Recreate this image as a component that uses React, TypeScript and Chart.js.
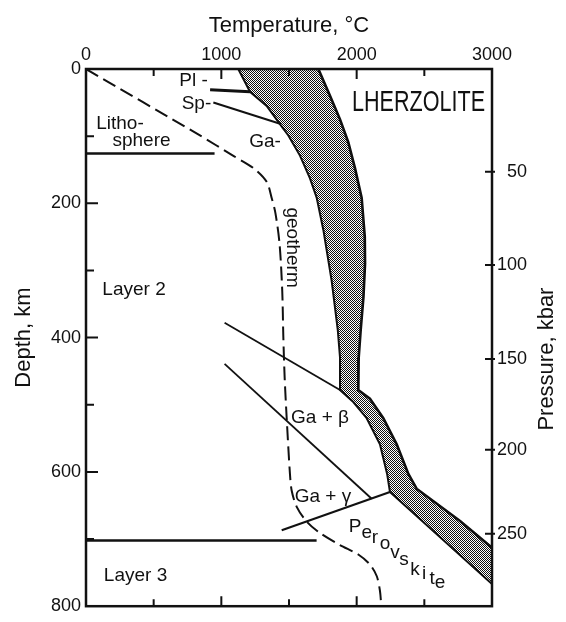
import { useEffect, useRef } from 'react';
import { Chart, registerables } from 'chart.js';

Chart.register(...registerables);

const INK = '#111111';
const FONT = "'Liberation Sans', Arial, sans-serif";

// Axis ticks
const temperatureTicks = [0, 1000, 2000, 3000];
const temperatureTickMarks = [500, 1000, 1500, 2000, 2500];
const depthTickMarks = [100, 200, 300, 400, 500, 600, 700];
const pressureLabels = [50, 100, 150, 200, 250];
const pressureDepths = [153, 292, 432, 567, 692];

// Geotherm (temperature °C, depth km)
const geothermT = [0, 842, 1086, 1240, 1335, 1372, 1400, 1430, 1450, 1458, 1468, 1483, 1507, 1520, 1557, 1631, 1729, 1877, 2012, 2098, 2148, 2172, 2182];
const geothermD = [0, 99, 129, 148, 168, 192, 215, 260, 330, 398, 460, 520, 603, 628, 652, 674, 691, 709, 723, 738, 755, 777, 800];

// Melting band: solidus (left) and liquidus (right)
const solidusT = [1125, 1212, 1335, 1433, 1495, 1581, 1655, 1705, 1755, 1815, 1860, 1877, 1877, 1975, 2074, 2172, 2225, 2246, 3000];
const solidusD = [0, 34, 55, 82, 99, 129, 163, 192, 241, 315, 388, 430, 478, 496, 520, 559, 603, 630, 767];
const liquidusT = [1717, 1803, 1877, 1938, 1988, 2037, 2060, 2062, 2050, 2030, 2015, 2012, 2098, 2197, 2296, 2382, 2443, 2764, 3000];
const liquidusD = [0, 40, 75, 109, 148, 192, 250, 290, 340, 388, 430, 478, 491, 520, 559, 603, 625, 673, 713];

// Phase boundaries
const plagioclaseT = [917, 1212];
const plagioclaseD = [31, 34];
const spinelT = [941, 1440];
const spinelD = [50, 82];
const garnetBetaT = [1024, 1877];
const garnetBetaD = [378, 478];
const betaGammaT = [1024, 2111];
const betaGammaD = [439, 640];
const perovskiteT = [1446, 2246];
const perovskiteD = [687, 630];
const lithosphereT = [0, 950];
const lithosphereD = [126, 126];
const layer3T = [0, 1704];
const layer3D = [702, 702];

// Text labels (temperature, depth of baseline)
const labelTexts = ['Pl -', 'Sp-', 'Ga-', 'Litho-', 'sphere', 'Layer 2', 'Layer 3', 'Ga + β', 'Ga + γ'];
const labelT = [794, 816, 1323, 251, 410, 355, 366, 1729, 1751];
const labelD = [25, 59, 116, 89.5, 114, 336.6, 763, 527, 645];

const perovskiteLetters = ['P', 'e', 'r', 'o', 'v', 's', 'k', 'i', 't', 'e'];
const perovskiteLetterT = [1988, 2074, 2135, 2209, 2283, 2350, 2431, 2498, 2557, 2616];
const perovskiteLetterD = [689.5, 697.7, 706, 714.4, 728, 739, 754.1, 760, 766.2, 773.6];

const geothermLabel = { text: 'geotherm', t: 1522, d: 266 };
const rockLabel = { text: 'LHERZOLITE', t: 2457, d: 62.7 };

const pts = (t: number[], d: number[]) => t.map((v, i) => ({ x: v, y: d[i] }));

const lineDs = (t: number[], d: number[], width: number, extra: any = {}) => ({
  data: pts(t, d),
  showLine: true,
  pointRadius: 0,
  borderColor: INK,
  borderWidth: width,
  fill: false,
  order: 0,
  ...extra,
});

const decorPlugin = {
  id: 'decor',
  afterDatasetsDraw(chart: any) {
    const { ctx, chartArea: a, scales } = chart;
    const xs = scales.x;
    const ys = scales.y;
    const y2 = scales.y2;
    ctx.save();
    ctx.strokeStyle = INK;
    ctx.fillStyle = INK;
    ctx.lineWidth = 2.5;
    ctx.strokeRect(a.left, a.top, a.right - a.left, a.bottom - a.top);

    ctx.lineWidth = 2;
    ctx.beginPath();
    temperatureTickMarks.forEach((v) => {
      const px = xs.getPixelForValue(v);
      const len = v % 1000 === 0 ? 10 : 7;
      ctx.moveTo(px, a.top);
      ctx.lineTo(px, a.top + len);
      ctx.moveTo(px, a.bottom);
      ctx.lineTo(px, a.bottom - len);
    });
    depthTickMarks.forEach((d) => {
      const py = ys.getPixelForValue(d);
      const len = d % 200 === 0 ? 12 : 8;
      ctx.moveTo(a.left, py);
      ctx.lineTo(a.left + len, py);
    });
    pressureDepths.forEach((d) => {
      const py = y2.getPixelForValue(d);
      ctx.moveTo(a.right - 7, py);
      ctx.lineTo(a.right + 3, py);
    });
    ctx.stroke();

    ctx.font = `19px ${FONT}`;
    ctx.textAlign = 'center';
    ctx.textBaseline = 'alphabetic';
    labelTexts.forEach((txt, i) => {
      ctx.fillText(txt, xs.getPixelForValue(labelT[i]), ys.getPixelForValue(labelD[i]));
    });
    perovskiteLetters.forEach((ch, i) => {
      ctx.fillText(ch, xs.getPixelForValue(perovskiteLetterT[i]), ys.getPixelForValue(perovskiteLetterD[i]));
    });

    // geotherm, rotated
    ctx.save();
    ctx.translate(xs.getPixelForValue(geothermLabel.t), ys.getPixelForValue(geothermLabel.d));
    ctx.rotate(Math.PI / 2);
    ctx.textBaseline = 'middle';
    ctx.font = `19px ${FONT}`;
    ctx.fillText(geothermLabel.text, 0, 0);
    ctx.restore();

    // LHERZOLITE, condensed
    ctx.save();
    ctx.font = `30px ${FONT}`;
    const w = ctx.measureText(rockLabel.text).width;
    ctx.translate(xs.getPixelForValue(rockLabel.t), ys.getPixelForValue(rockLabel.d));
    ctx.scale(133 / w, 1);
    ctx.fillText(rockLabel.text, 0, 0);
    ctx.restore();

    // Pressure axis title (reads bottom to top)
    ctx.save();
    ctx.translate(a.right + 55, y2.getPixelForValue(pressureDepths[2]));
    ctx.rotate(-Math.PI / 2);
    ctx.font = `22px ${FONT}`;
    ctx.textBaseline = 'middle';
    ctx.fillText('Pressure, kbar', 0, 0);
    ctx.restore();

    ctx.restore();
  },
};

export default function App() {
  const ref = useRef<HTMLCanvasElement>(null);
  useEffect(() => {
    const canvas = ref.current!;
    const off = document.createElement('canvas');
    off.width = 2;
    off.height = 2;
    const oc = off.getContext('2d')!;
    oc.fillStyle = '#ffffff';
    oc.fillRect(0, 0, 2, 2);
    oc.fillStyle = INK;
    oc.fillRect(0, 0, 1, 1);
    oc.fillRect(1, 1, 1, 1);
    const pattern = canvas.getContext('2d')!.createPattern(off, 'repeat');

    const bandT = [...solidusT, ...liquidusT.slice().reverse()];
    const bandD = [...solidusD, ...liquidusD.slice().reverse()];

    const chart = new Chart(canvas, {
      type: 'scatter',
      data: {
        datasets: [
          {
            data: pts(bandT, bandD),
            showLine: true,
            pointRadius: 0,
            borderWidth: 0,
            borderColor: 'rgba(0,0,0,0)',
            backgroundColor: pattern as any,
            fill: 'shape',
            order: 10,
          } as any,
          lineDs(solidusT, solidusD, 2),
          lineDs(liquidusT, liquidusD, 2.6),
          lineDs(geothermT, geothermD, 2, { borderDash: [14, 6], tension: 0.3 }),
          lineDs(plagioclaseT, plagioclaseD, 3),
          lineDs(spinelT, spinelD, 2),
          lineDs(garnetBetaT, garnetBetaD, 1.8),
          lineDs(betaGammaT, betaGammaD, 1.8),
          lineDs(perovskiteT, perovskiteD, 2.2),
          lineDs(lithosphereT, lithosphereD, 2.5),
          lineDs(layer3T, layer3D, 2.5),
        ],
      },
      options: {
        responsive: false,
        animation: false,
        devicePixelRatio: 1,
        layout: { padding: { top: 0, bottom: 8, left: 0, right: 39 } },
        plugins: { legend: { display: false }, tooltip: { enabled: false } },
        scales: {
          x: {
            type: 'linear',
            position: 'top',
            min: 0,
            max: 3000,
            afterBuildTicks: (s: any) => {
              s.ticks = temperatureTicks.map((v) => ({ value: v }));
            },
            ticks: {
              callback: (v: any) => String(v),
              font: { family: FONT, size: 18 },
              color: INK,
              padding: 3,
              maxRotation: 0,
              autoSkip: false,
            },
            grid: { display: false, drawTicks: false },
            border: { display: false },
            title: {
              display: true,
              text: 'Temperature, °C',
              font: { family: FONT, size: 22 },
              color: INK,
              padding: { top: 13, bottom: 0 },
            },
            afterFit: (s: any) => {
              s.height = 69;
            },
          },
          y: {
            type: 'linear',
            position: 'left',
            reverse: true,
            min: 0,
            max: 800,
            ticks: {
              stepSize: 200,
              font: { family: FONT, size: 18 },
              color: INK,
              padding: 5,
              autoSkip: false,
            },
            grid: { display: false, drawTicks: false },
            border: { display: false },
            title: {
              display: true,
              text: 'Depth, km',
              font: { family: FONT, size: 22 },
              color: INK,
              padding: { top: 11, bottom: 0 },
            },
            afterFit: (s: any) => {
              s.width = 86;
            },
          },
          y2: {
            type: 'linear',
            position: 'right',
            reverse: true,
            min: 0,
            max: 800,
            afterBuildTicks: (s: any) => {
              s.ticks = pressureDepths.map((v) => ({ value: v }));
            },
            ticks: {
              callback: (_v: any, i: number) => String(pressureLabels[i]),
              font: { family: FONT, size: 18 },
              color: INK,
              padding: 5,
              crossAlign: 'far',
              autoSkip: false,
            },
            grid: { display: false, drawTicks: false },
            border: { display: false },
            afterFit: (s: any) => {
              s.width = 35;
            },
          },
        },
      } as any,
      plugins: [decorPlugin],
    });
    return () => chart.destroy();
  }, []);

  return (
    <div style={{ position: 'absolute', left: 0, top: 0, width: 566, height: 622, background: '#fff' }}>
      <canvas ref={ref} width={566} height={622} style={{ display: 'block', width: 566, height: 622 }} />
    </div>
  );
}
